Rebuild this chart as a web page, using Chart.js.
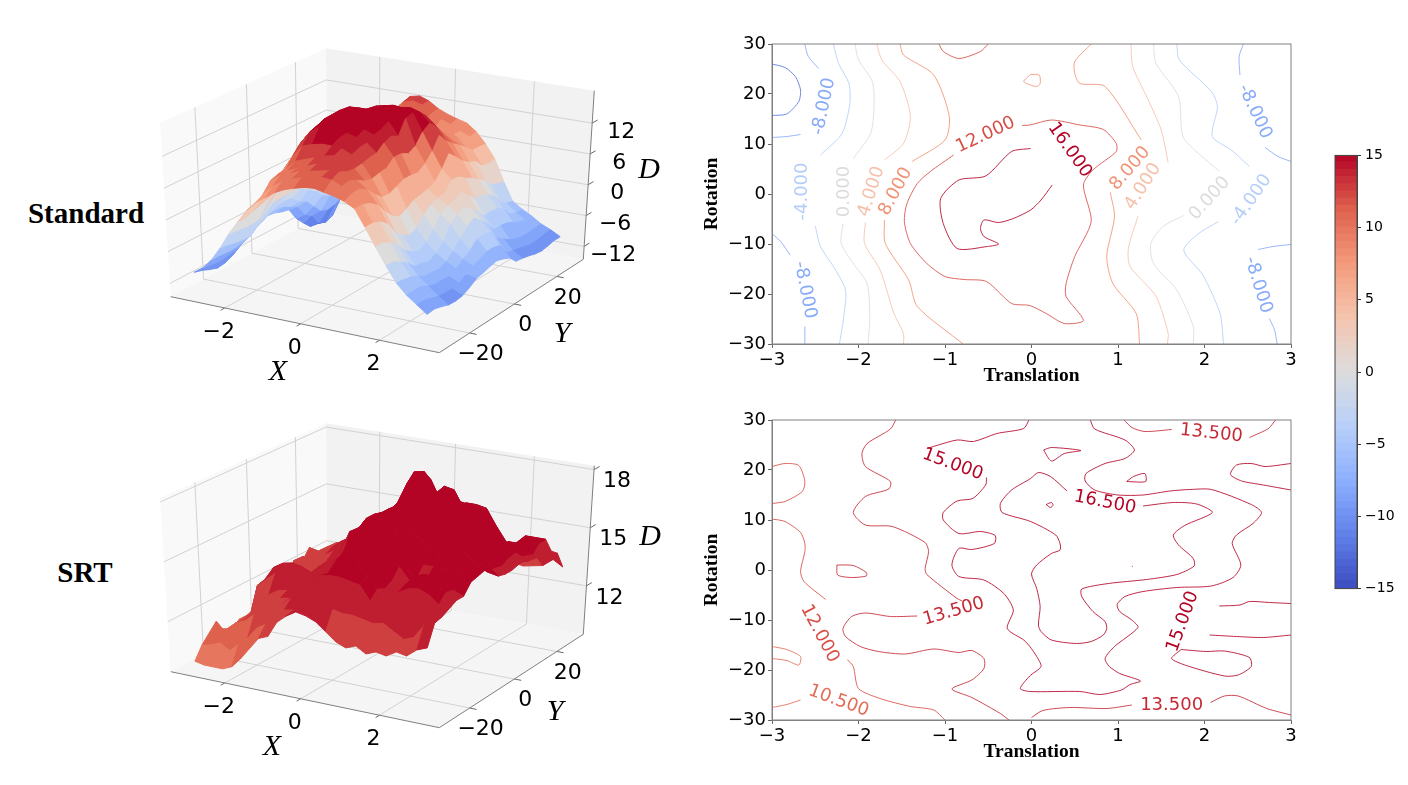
<!DOCTYPE html>
<html lang="en">
<head>
<meta charset="UTF-8">
<title>Standard vs SRT loss surfaces</title>
<script src="https://cdn.jsdelivr.net/npm/chart.js"></script>
<style>
  html, body { margin: 0; padding: 0; background: #fff; }
  body { width: 1408px; height: 785px; position: relative; overflow: hidden; }
  .panel { position: absolute; }
  .side-title { position: absolute; font: bold 29px "Liberation Serif", serif; color: #000; transform: translate(-50%, -50%); white-space: nowrap; }
</style>
</head>
<body>
<div class="side-title" style="left:86px;top:213px">Standard</div>
<div class="side-title" style="left:85px;top:572px">SRT</div>
<canvas class="panel" id="surfaceStandard" style="left:150px;top:30px;width:530px;height:370px"></canvas>
<canvas class="panel" id="surfaceSrt" style="left:150px;top:405px;width:530px;height:370px"></canvas>
<canvas class="panel" id="contourStandard" style="left:700px;top:30px;width:610px;height:358px"></canvas>
<canvas class="panel" id="contourSrt" style="left:700px;top:406px;width:610px;height:358px"></canvas>
<canvas class="panel" id="colorbar" style="left:1325px;top:143px;width:70px;height:458px"></canvas>

<script>
const xGrid = [-3, -2.75, -2.5, -2.25, -2, -1.75, -1.5, -1.25, -1, -0.75, -0.5, -0.25, 0, 0.25, 0.5, 0.75, 1, 1.25, 1.5, 1.75, 2, 2.25, 2.5, 2.75, 3];
const yGrid = [-30, -27, -24, -21, -18, -15, -12, -9, -6, -3, 0, 3, 6, 9, 12, 15, 18, 21, 24, 27, 30];

// one row per yGrid value
const standardZ = [
  [-10, -8.8, -6.9, -4.3, -1.3, 1.3, 3.8, 5.7, 6.9, 8.2, 9.1, 9.7, 10.2, 10.4, 10, 9.6, 9, 8, 4.9, 1.6, -1.5, -4.3, -6.2, -7.6, -9],
  [-10.4, -9, -6.9, -4.5, -1.5, 1.3, 4.2, 6.4, 8.3, 9.5, 10.3, 10.9, 11.4, 11.7, 11.5, 10.7, 9.7, 8, 4.9, 1.6, -1.6, -4.5, -6.2, -7.6, -8.8],
  [-11, -9.2, -7, -4.8, -1.7, 1.8, 5, 8.3, 9.5, 10.3, 11, 11.4, 11.8, 12.2, 12.3, 11, 9.8, 7.5, 4.4, 0.8, -2.4, -4.8, -6.2, -8, -9.2],
  [-11.5, -9, -7, -5, -1.7, 2.3, 6, 8.8, 9.8, 10.5, 11.3, 12, 12.5, 12.8, 11.6, 10.3, 8.9, 6.4, 3.2, -0.4, -3.4, -5.5, -7, -8.5, -9.7],
  [-11.3, -8.7, -6.7, -5, -1.5, 2.8, 6.8, 9, 10.8, 11.5, 12.1, 12.8, 13.2, 12.9, 11.4, 9.5, 7.3, 4.5, 0.8, -2.2, -4.8, -6.2, -7.4, -8.6, -9.8],
  [-10.7, -8.3, -6, -3.8, 0.4, 3.8, 8, 10.9, 13, 13.6, 14, 14, 13.8, 13, 11.6, 9.1, 6, 2.8, -0.4, -3.2, -5, -6.3, -7.4, -8.7, -9.6],
  [-9.7, -7.6, -5.2, -2.3, 1.3, 5.2, 9.3, 12.5, 15, 16.2, 16, 14.8, 14.3, 13.6, 12, 9.5, 5.9, 2, -1.3, -3.9, -5.4, -6.5, -7.6, -8.4, -8.9],
  [-8.2, -6.3, -4.6, -1, 2.6, 7.1, 11, 13.5, 15.5, 16.6, 15.6, 15, 14.5, 13.8, 12.2, 9.7, 6.5, 2.6, -0.7, -3, -4.7, -5.9, -6.9, -7.6, -8],
  [-7.3, -5.6, -3.7, -0.8, 2.7, 7.1, 11.3, 14, 16.1, 16.8, 15.9, 15.7, 15.3, 14.6, 13.4, 11, 7.2, 3.6, 1, -1.4, -3.3, -4.7, -5.9, -6.8, -7.7],
  [-6.8, -5.1, -3.2, -0.7, 2.5, 6, 11.2, 14, 16.2, 17, 17, 16.7, 16, 15, 14, 11, 7.2, 3.8, 2.3, 0.8, -0.8, -3.2, -5, -6.2, -7.3],
  [-6.6, -4.9, -2.8, -0.7, 1.9, 5.4, 9.5, 13.5, 16.3, 17.3, 17.4, 17.3, 16.9, 15.8, 13.3, 10.3, 7, 4.2, 2.8, 1.7, 0.3, -1.6, -3.6, -5.6, -7],
  [-6.8, -5.2, -3.2, -1, 1.7, 4.7, 8, 12.2, 14.5, 15.5, 16.5, 17.4, 17.4, 16.9, 16, 11, 8, 4.8, 3.1, 2.1, 1, -0.7, -3.5, -5.6, -7.4],
  [-7.3, -5.9, -4.6, -1.9, 0.9, 3.6, 6.9, 9.8, 12.4, 14, 15.4, 16.8, 17.2, 17, 16.4, 13, 9.6, 6.5, 4.8, 2.8, 0, -1.9, -3.8, -6, -8],
  [-7.6, -6.6, -5.2, -3, -0.5, 2, 4.5, 6.6, 8.9, 12, 14, 15.8, 16, 16.4, 15.8, 14, 12, 8.8, 4.7, 1.4, -1.3, -3.3, -5.7, -8.2, -9.4],
  [-10, -8.9, -6.9, -4.4, -1.5, 1, 3.5, 5.8, 7.9, 9.9, 11.7, 13.2, 14, 14.5, 14.3, 12.7, 10.2, 7.5, 3.7, 0.1, -2.9, -5.2, -6.6, -8.5, -9.6],
  [-11.6, -9.8, -8.5, -5.2, -1.9, 0.7, 3, 5.3, 7.5, 9.5, 10.8, 11.6, 11.9, 11.9, 11.5, 10.6, 9, 6, 3, 0, -2.8, -5.2, -7.5, -8.8, -9.9],
  [-13, -12, -9, -6, -2.5, 0.8, 3.4, 5.5, 7.6, 9.5, 10.4, 10, 9.7, 9.5, 9.3, 9, 8, 5, 2, -0.6, -3, -5.4, -8.1, -9.2, -10.3],
  [-13.2, -12.5, -8.7, -5.6, -2.4, 0.9, 3.8, 6.2, 8.4, 10, 10.6, 9.5, 7.9, 8.8, 8.8, 8.3, 6.9, 4.5, 1, -1.6, -3.7, -6, -8.4, -9.5, -10.5],
  [-12.7, -12, -8, -4.6, -0.9, 2.4, 5.1, 7.9, 10.2, 11.4, 11.2, 10.1, 8.5, 8.7, 8, 7, 5.6, 2.9, -0.4, -3.6, -5.4, -6.7, -8.4, -9.4, -10.3],
  [-10.8, -9.3, -7, -4.2, 0, 3.8, 7.4, 9.7, 11.8, 12.4, 11.9, 10.5, 9.6, 9, 8, 7.2, 5.6, 2.6, -1, -4.4, -6, -7, -8.3, -9.1, -10],
  [-10.1, -9, -6.6, -3.6, 0.6, 4.7, 8.2, 10.5, 12.3, 12.7, 12, 10.8, 10, 9.4, 8.9, 7.5, 5.4, 2.8, -1.3, -4.8, -6, -7, -8.2, -9, -10]
];
const srtZ = [
  [10, 9.9, 9.9, 9.9, 10.1, 10.6, 11.2, 11.8, 12, 12.8, 13.2, 13.5, 13.4, 13.2, 12.8, 12.4, 12.2, 12.4, 12.1, 12.3, 12.2, 12.5, 12.4, 12.8, 13],
  [10.6, 10.7, 10.9, 10.6, 11, 11.4, 12, 12.3, 12.8, 13.2, 13.3, 13.8, 13.9, 13.8, 13.7, 13.6, 13.6, 13.5, 13.4, 13.5, 13.2, 12.9, 13.1, 13.8, 14],
  [11, 11.3, 11.4, 11.8, 12, 12.4, 12.8, 13, 13.2, 13.6, 13.8, 14.2, 15, 15.1, 15.1, 15, 14.9, 14.2, 14, 14, 14.1, 13.9, 13.6, 14, 14.1],
  [11.4, 10.9, 11.3, 11.8, 12.2, 12.7, 13, 13.2, 13.3, 13.4, 14, 14.6, 14.9, 15.3, 15.8, 15.6, 15.1, 14.6, 14.2, 14.6, 14.9, 15, 14.8, 14.4, 14.3],
  [10.4, 10.4, 11.4, 11.9, 12.6, 13, 13.3, 13.4, 13.4, 13.5, 13.7, 14.4, 15, 15.8, 16.3, 15.9, 15.2, 14.4, 14.4, 14.8, 15.3, 15.5, 15.1, 14.8, 14.5],
  [10.5, 11, 11.3, 13.1, 13.5, 13.9, 14, 13.9, 13.7, 14.1, 14.3, 14.8, 15.5, 16.5, 16.7, 16, 15, 14.6, 14.4, 14.9, 15.2, 15.1, 14.9, 14.7, 14.5],
  [10.9, 11.2, 11.6, 13.2, 13.9, 14.2, 14.3, 14.2, 14, 14.4, 14.6, 15, 16, 16.7, 17, 16.6, 15.6, 15.1, 14.5, 14.5, 14.7, 14.8, 14.7, 14.9, 15],
  [10.9, 11.2, 11.8, 12.3, 13.3, 13.5, 13.5, 13.6, 14.1, 14.5, 14.7, 15, 16.3, 17, 17.2, 16.2, 15, 14.8, 14.4, 14.5, 14.6, 14.8, 14.8, 14.9, 15.1],
  [11, 11.4, 11.8, 12.2, 12.8, 13, 13.1, 13.2, 13.4, 13.7, 14.3, 15, 16, 17, 17.2, 16.2, 15, 15.2, 14.9, 14.9, 14.8, 14.7, 15.1, 15.2, 15.2],
  [11.3, 11.7, 12.3, 12.6, 12.9, 13, 13, 13.1, 13.3, 14.2, 15.1, 15.6, 16.1, 16.9, 16.5, 16.4, 16.3, 15.9, 15.5, 15.2, 15, 14.9, 14.9, 15, 15],
  [11.3, 11.9, 12.4, 13.4, 13.7, 13.3, 13.1, 13.3, 14.3, 15.4, 15.7, 16, 16.4, 16.9, 17.2, 17.3, 17.4, 17.6, 17.2, 16.7, 15.8, 15.2, 14.8, 14.6, 14.5],
  [11.4, 11.7, 12.4, 12.7, 13, 13.1, 13.2, 13.4, 14.3, 14.9, 15.3, 15.8, 16.2, 16.5, 17, 17.3, 17.5, 17.6, 17.4, 16.7, 16.1, 15.6, 15, 14.6, 14.4],
  [11.6, 12, 12.6, 12.9, 13.1, 13.2, 13.3, 13.5, 14.1, 15, 15.1, 15.7, 16.1, 16.5, 17, 17.4, 17.5, 17.4, 17.2, 16.6, 16.1, 15.5, 14.8, 14.5, 14.4],
  [11.9, 12, 12.7, 13, 13.2, 13.5, 13.6, 13.8, 14.5, 14.9, 15.4, 16.1, 16.6, 17, 17.3, 17.5, 17.3, 17.2, 17, 16.5, 16.7, 16.1, 15.2, 14.7, 14.5],
  [11.7, 11.8, 12.4, 12.8, 13.4, 13.8, 14.1, 14.3, 15, 15.2, 15.7, 16.3, 17.4, 17.6, 17.2, 16.6, 16.5, 16.4, 16.9, 16.9, 16.8, 16, 15.3, 14.8, 14.5],
  [12.2, 12.4, 12.8, 13, 13.4, 13.6, 14.1, 14.5, 14.8, 14.9, 15.3, 16.5, 17.8, 17.9, 17, 15.4, 15, 15, 15.1, 15.3, 15.3, 14.9, 14.7, 14.4, 14.6],
  [12.7, 12.6, 12.9, 13.2, 13.3, 13.4, 14.1, 14.4, 14.6, 14.7, 15.1, 15.8, 17, 17.3, 15.9, 14.9, 14.6, 15, 14.6, 14.5, 14.4, 14.8, 14.8, 14.9, 15],
  [12, 11.9, 12.3, 12.9, 13.3, 13.9, 14.1, 14.4, 14.7, 14.8, 15.2, 15.6, 16, 16.4, 16, 15, 14.7, 14.4, 14.2, 14.1, 14.2, 14.5, 15, 15, 15],
  [11.6, 11.6, 12.2, 12.7, 13.2, 13.9, 14.2, 14.7, 14.8, 14.9, 15.2, 15.6, 16.1, 16.6, 16.5, 15.6, 14.9, 14.7, 14.4, 14.3, 14.1, 14, 14.1, 14.2, 14.2],
  [11.3, 11.5, 12, 12.4, 13.1, 13.3, 13.9, 14.2, 14.6, 14.9, 15, 15.3, 15.7, 16, 15.7, 15.2, 14.2, 13.7, 13.4, 13.3, 13.2, 13.2, 13.5, 13.7, 13.9],
  [11, 11.3, 11.8, 12.1, 12.6, 13.1, 13.6, 14, 14.3, 14.5, 14.7, 14.9, 15.2, 15.5, 15.4, 14.9, 13.7, 13.2, 13, 12.8, 12.7, 12.8, 12.9, 13.3, 13]
];

const xTicks3d = [-2, 0, 2];
const yTicks3d = [-20, 0, 20];
const zTicksStandard = [-12, -6, 0, 6, 12];
const zTicksSrt = [12, 15, 18];
const colorbarTicks = [-15, -10, -5, 0, 5, 10, 15];

// contour polylines as flat x,y lists, one list per unbroken piece of line
const stdM12 = [
  [-3,26, -2.85,25.3, -2.73,23.5, -2.67,20.8, -2.69,18.5, -2.83,16, -3,15.7]
];
const stdM8 = [
  [-2.62,29.9, -2.58,27.5, -2.46,25.1],
  [-2.67,11.9, -2.83,11.5, -3,11.3],
  [-3,-7.9, -2.9,-9.5, -2.79,-12.2],
  [-2.62,-26.5, -2.62,-30],
  [2.45,30, 2.4,27.5, 2.41,23.8],
  [2.7,9.3, 2.85,7.5, 3,6.5],
  [2.62,-11.1, 2.79,-10.5, 3,-10.1],
  [2.75,-24.9, 2.81,-27.2, 2.84,-30]
];
const stdM4 = [
  [-2.29,30, -2.23,26.1, -2.11,22.1, -2.1,18.1, -2.19,12.1, -2.44,7.8],
  [-2.5,-6.4, -2.44,-10.5, -2.29,-14.5, -2.15,-19.2, -2.17,-24.5, -2.22,-30],
  [1.68,30, 1.71,26.8, 2.08,20.5, 2.15,17.5, 2.09,11.5, 2.31,8.8, 2.52,5.5],
  [2.16,-5.5, 1.91,-8.2, 1.76,-11.3, 1.98,-16.2, 2.18,-23.9, 2.22,-30]
];
const stdZero = [
  [-2.04,30, -2,26.8, -1.84,22.5, -1.82,17.5, -1.86,12.1, -2.06,7.1],
  [-2.18,-5.9, -2.2,-9.9, -2.06,-13.9, -1.9,-17.9, -1.87,-24.5, -1.89,-30],
  [1.41,30, 1.44,26.1, 1.7,19.5, 1.75,11.5, 1.95,7.8, 2.17,4.6],
  [1.76,-4.3, 1.52,-6.5, 1.38,-9.9, 1.41,-13.9, 1.68,-19.2, 1.87,-26.5, 1.87,-30]
];
const stdP4 = [
  [-1.79,30, -1.73,26.8, -1.52,22.5, -1.4,15.5, -1.48,10.1, -1.7,6.8],
  [-1.92,-5.7, -1.93,-9.9, -1.75,-15.2, -1.59,-23.9, -1.48,-27.9, -1.48,-30],
  [1.15,30, 1.17,25.5, 1.35,18.8, 1.5,12.8, 1.58,6.3],
  [1.23,-4.5, 1.12,-10.9, 1.14,-14.5, 1.44,-20.5, 1.58,-27.9, 1.57,-30]
];
const stdP8 = [
  [-1.52,30, -1.48,27.8, -1.13,23.8, -0.95,15.5, -1,10.8, -1.38,6.5],
  [-1.7,-5.2, -1.69,-9.9, -1.42,-17.2, -1.32,-22.5, -0.79,-30],
  [0.69,30, 0.5,26.5, 0.5,24.1, 0.56,22.1, 0.85,21.5, 1.27,10.8],
  [0.91,0.3, 0.96,-4.5, 0.87,-12.5, 0.94,-17.9, 1.21,-23.9, 1.25,-30],
  [-0.01,23.9, 0.09,23.8, 0.1,22.1, 0.06,21.5, -0.01,21.8, -0.09,22.5, -0.01,23.9]
];
const stdP12 = [
  [-1.07,30, -1.02,28.5, -0.84,27.1, -0.59,28.5, -0.5,30],
  [-0.9,7.8, -1.17,4.5, -1.32,2.1, -1.44,-1.9, -1.47,-5.5, -1.4,-9.9, -1.21,-13.9, -1,-16.5, -0.78,-17.1, -0.52,-17.5, -0.23,-21.9,
   -0.02,-22.3, 0.17,-23.9, 0.38,-25.9, 0.6,-25.3, 0.4,-20.5, 0.4,-17.9, 0.5,-12.5, 0.69,-5.5, 0.6,1.8, 0.71,4.8, 0.98,8.5, 0.98,10.1, 0.83,12.9, 0.56,13.8, 0.23,14.8, -0.02,13.8, -0.11,13.7]
];
const stdP16 = [
  [-0.01,9.1, -0.23,8.5, -0.53,3.6, -0.84,2.8, -1.05,-0.9, -1.02,-5.9, -0.86,-10.9, -0.51,-10.5, -0.38,-10, -0.55,-8.5, -0.59,-6.9, -0.55,-5.2, -0.38,-5.7, -0.21,-4.9, -0.01,-3.2, 0.11,-1.2, 0.24,1.8]
];

const srtP105 = [
  [-3,-15.3, -2.83,-15.9, -2.67,-17.3, -2.69,-19, -2.83,-18.1, -3,-17.7],
  [-3,-27.5, -2.83,-26.9, -2.67,-26]
];
const srtP12 = [
  [-3,20.7, -2.85,21.3, -2.69,20.9, -2.62,17.7, -2.65,15.7, -2.85,13.7, -3,13.3],
  [-3,10.2, -2.85,9.7, -2.67,7.5, -2.62,5.3, -2.62,3.7, -2.67,-0.3, -2.63,-2.3, -2.38,-5.9],
  [-2.13,-17.9, -2.06,-19.3, -2,-23.7, -1.75,-25.7, -1.4,-27.3, -1.13,-28, -1,-30]
];
const srtP135 = [
  [-1.57,30, -1.63,28.2, -1.9,25.3, -1.96,23.3, -1.92,20.7, -1.63,17.7, -1.65,16.2, -1.92,14.7, -2.06,11.5, -1.92,9, -1.61,8.7, -1.23,5.5, -1.19,3.7, -1.23,0.3, -1.21,-0.9, -0.86,-5.7, -0.8,-6.2],
  [-2.25,1, -2.06,0.9, -1.91,-0.5, -1.91,-1.2, -2.08,-1.5, -2.24,-1, -2.25,1],
  [-1.32,-9.2, -1.63,-9.3, -1.92,-8.6, -2.08,-9.3, -2.18,-11.7, -2.15,-13.3, -1.98,-15.3, -1.77,-16.3, -1.46,-16.8, -1.13,-15.8, -0.84,-16.5, -0.69,-16.1, -0.55,-17.7, -0.55,-19.7, -0.69,-22, -0.92,-23.8, -0.69,-25.5, -0.36,-28.7, -0.26,-30],
  [1.07,30, 1.16,28.5, 1.31,27.7, 1.62,28.1],
  [2.52,26.5, 2.74,28.3, 2.82,30],
  [0,-29.5, 0.13,-28.1, 0.44,-27.5, 0.87,-27.7, 1.16,-27],
  [2.07,-26.5, 2.23,-25.2, 2.39,-25.2, 2.72,-27.7, 3,-29]
];
const srtP15 = [
  [-1.21,24.3, -0.86,26, -0.67,25.7, -0.4,27.3, -0.09,28.3, -0.03,30],
  [-0.52,18.5, -0.53,17, -0.68,14.3, -0.86,13.8, -1.02,11.5, -1.02,10, -0.84,7.3, -0.59,7.7, -0.42,6.9, -0.43,5.3, -0.69,4.1, -0.84,4.3, -0.92,1, -0.84,-1.3, -0.55,-2, -0.32,-4.7, -0.21,-8, -0.28,-11.7, -0.09,-14, -0.02,-15.3,
   0.06,-17.3, 0.11,-19.3, -0.02,-21.2, -0.13,-23.7, -0.02,-24.3, 0.56,-24.3, 0.79,-24.9, 1.04,-24, 1.14,-22.9, 1.26,-22.2, 1.02,-20.7, 0.9,-19.3, 0.85,-17.7, 0.96,-15.3, 1.23,-11.5, 1.16,-10, 1.02,-8.3, 0.99,-6.9, 1.08,-5.3, 1.29,-4.3, 1.68,-3.5, 2.08,-3.2, 2.33,-1.5, 2.42,1, 2.32,5.3, 2.37,7, 2.56,9.3, 2.66,11.5, 2.54,13.1, 2.08,16.1, 1.83,16.1, 1.6,15.8, 1.29,15, 1,15, 0.73,16, 0.62,17.8, 0.63,19.3, 0.85,21.3, 1.08,22.3, 1.19,24, 1.08,26, 0.73,28.2, 0.68,30],
  [3,21.3, 2.7,20.7, 2.54,21.3, 2.37,21, 2.3,19.1, 2.43,17.8, 2.68,17, 3,16],
  [2.17,-7.2, 2.41,-7, 2.52,-6.3, 2.75,-6.5, 3,-6.7],
  [2.06,-13, 2.37,-13.3, 2.68,-13.5, 3,-13],
  [1.73,-15.9, 1.62,-17.7, 1.79,-19.1, 2.23,-21.2, 2.39,-21, 2.54,-19.3, 2.52,-17.5, 2.23,-16.2, 2.02,-16.3, 1.73,-15.9]
];
const srtP165 = [
  [0.41,15.8, 0.22,18.7, 0.08,19.5, -0.01,18.3, -0.23,16, -0.36,13.3, -0.34,11.5, -0.01,9.7, 0.28,7, 0.33,5.3, 0.33,4, 0.23,3.3, 0.06,1, 0,-0.8, 0.06,-3.7, 0.1,-7.3, 0.08,-11, 0.11,-12.3, 0.23,-14, 0.52,-14.7, 0.69,-14.3, 0.83,-13, 0.87,-11.7, 0.85,-10.3, 0.71,-8.3, 0.58,-5.3, 0.58,-3.8, 0.89,-2.7, 1.33,-1.9, 1.68,-0.9, 1.88,0.8, 1.87,2.3, 1.7,5, 1.64,7, 1.77,8.9, 2.09,11.5, 1.91,13.2, 1.64,13.5, 1.29,12.8],
  [0.14,24, 0.23,24.5, 0.57,23.9, 0.38,23.3, 0.23,21.8, 0.14,24],
  [1.1,17.7, 1.18,18.7, 1.31,19.3, 1.32,17.7, 1.1,17.7],
  [0.17,13.1, 0.23,13.5, 0.25,13, 0.22,12.5, 0.17,13.1],
  [1.16,0.8, 1.17,0.7]
];

// inline contour labels: text, level, x, y, angle in degrees
const stdLabels = [
  ['-8.000', -8, -2.4, 17.5, -78], ['-4.000', -4, -2.65, 0.5, -90], ['0.000', 0, -2.16, 0.5, -90],
  ['4.000', 4, -1.85, 0.5, -72], ['8.000', 8, -1.57, 0.5, -62], ['12.000', 12, -0.53, 11.8, -25],
  ['-8.000', -8, -2.62, -19.2, 79], ['16.000', 16, 0.44, 8.8, 55], ['8.000', 8, 1.14, 5.1, -49],
  ['4.000', 4, 1.29, 1.5, -57], ['0.000', 0, 2.06, -0.9, -48], ['-4.000', -4, 2.54, -1.2, -55],
  ['-8.000', -8, 2.58, 16.5, 65], ['-8.000', -8, 2.62, -18.2, 73]
];
const srtLabels = [
  ['15.000', 15, -0.91, 21.1, 20], ['12.000', 12, -2.45, -12.7, 62], ['13.500', 13.5, -0.9, -8.3, -16],
  ['10.500', 10.5, -2.23, -26.2, 20], ['13.500', 13.5, 2.08, 27.3, 6], ['16.500', 16.5, 0.85, 13.5, 11],
  ['15.000', 15, 1.75, -10.3, -70], ['13.500', 13.5, 1.62, -27, 0]
];

// coolwarm colormap stops
const coolwarmStops = [[59,76,192],[98,130,234],[141,176,254],[184,208,249],[221,220,220],[245,196,173],[244,154,123],[222,96,77],[180,4,38]];
function coolwarm(v) {
  const t = Math.max(0, Math.min(1, (v + 15) / 30)) * (coolwarmStops.length - 1);
  const i = Math.min(Math.floor(t), coolwarmStops.length - 2);
  const f = t - i;
  const c = coolwarmStops[i].map((a, k) => Math.round(a + (coolwarmStops[i + 1][k] - a) * f));
  return `rgb(${c[0]},${c[1]},${c[2]})`;
}

// unit square -> picture quad, used for the floor and the roof of the 3D box
function quadMap(q) {
  const [[x0,y0],[x1,y1],[x2,y2],[x3,y3]] = q;
  const dx1 = x1-x2, dx2 = x3-x2, sx = x0-x1+x2-x3;
  const dy1 = y1-y2, dy2 = y3-y2, sy = y0-y1+y2-y3;
  const den = dx1*dy2 - dx2*dy1;
  const g = (sx*dy2 - dx2*sy) / den, h = (dx1*sy - sx*dy1) / den;
  const a = x1-x0+g*x1, b = x3-x0+h*x3, d = y1-y0+g*y1, e = y3-y0+h*y3;
  return (u, v) => {
    const w = g*u + h*v + 1;
    return [(a*u + b*v + x0) / w, (d*u + e*v + y0) / w];
  };
}
const floorMap = quadMap([[170.7,296.7],[439.3,352.7],[583.3,259.3],[327,213]]);
const roofMap = quadMap([[160,123],[440,175],[594.3,90.7],[326,48.3]]);
const X_MIN = -3.47, X_MAX = 3.47, Y_MIN = -33, Y_MAX = 33;

function makeProjector(zMin, zMax, dy) {
  return (x, y, z) => {
    const u = (x - X_MIN) / (X_MAX - X_MIN), v = (y - Y_MIN) / (Y_MAX - Y_MIN), t = (z - zMin) / (zMax - zMin);
    const f = floorMap(u, v), r = roofMap(u, v);
    return { x: f[0] + (r[0] - f[0]) * t, y: f[1] + (r[1] - f[1]) * t + dy };
  };
}

function lineSet(points, color, width, tension) {
  return { data: points, showLine: true, borderColor: color, borderWidth: width, pointRadius: 0, tension: tension || 0, fill: false };
}
function polySet(points, color, edge) {
  return { data: points.concat([points[0]]), showLine: true, borderColor: edge ? color : 'transparent', borderWidth: edge ? 1 : 0, backgroundColor: color, pointRadius: 0, tension: 0, fill: 'shape' };
}

// text drawn on the canvas, anchored through the chart scales
function textPlugin(items) {
  return {
    id: 'textItems',
    afterDraw(chart) {
      const ctx = chart.ctx;
      items.forEach(it => {
        ctx.save();
        ctx.translate(chart.scales.x.getPixelForValue(it.x) + (it.dx || 0), chart.scales.y.getPixelForValue(it.y) + (it.dy || 0));
        if (it.angle) ctx.rotate(it.angle * Math.PI / 180);
        ctx.font = it.font;
        ctx.fillStyle = it.color || '#000';
        ctx.textAlign = 'center';
        ctx.textBaseline = 'middle';
        ctx.fillText(it.text, 0, 0);
        ctx.restore();
      });
    }
  };
}

const TICK_FONT = '22px "DejaVu Sans"';
const AXIS_FONT = 'italic 30px "Liberation Serif"';
const minus = s => String(s).replace('-', '\u2212');

function drawSurface(id, rows, zMin, zMax, zTicks, dy, zOffset, labelPos) {
  const P = makeProjector(zMin, zMax, dy);
  const quads = [];
  for (let j = 0; j < yGrid.length - 1; j++) {
    for (let i = 0; i < xGrid.length - 1; i++) {
      const mean = (rows[j][i] + rows[j][i+1] + rows[j+1][i] + rows[j+1][i+1]) / 4;
      quads.push({
        depth: (xGrid[i] + xGrid[i+1]) / 6 - (yGrid[j] + yGrid[j+1]) / 60,
        pts: [P(xGrid[i], yGrid[j], rows[j][i]), P(xGrid[i+1], yGrid[j], rows[j][i+1]), P(xGrid[i+1], yGrid[j+1], rows[j+1][i+1]), P(xGrid[i], yGrid[j+1], rows[j+1][i])],
        // coloured in steps, the reference surface shows bands
        color: coolwarm(Math.round(mean / 1.4) * 1.4)
      });
    }
  }
  quads.sort((a, b) => b.depth - a.depth);

  // first dataset ends up on top, so nearest quads go first
  const datasets = quads.map(q => polySet(q.pts, q.color, true));

  const edge = '#7f7f7f', grid = '#d2d2d2';
  datasets.push(lineSet([P(X_MIN,Y_MIN,zMin), P(X_MAX,Y_MIN,zMin), P(X_MAX,Y_MAX,zMin), P(X_MAX,Y_MAX,zMax)], edge, 1));
  xTicks3d.forEach(t => datasets.push(lineSet([P(t,Y_MIN,zMin), P(t,Y_MIN-1.6,zMin)], '#666', 1)));
  yTicks3d.forEach(t => datasets.push(lineSet([P(X_MAX,t,zMin), P(X_MAX+0.17,t,zMin)], '#666', 1)));
  zTicks.forEach(t => datasets.push(lineSet([P(X_MAX,Y_MAX,t), P(X_MAX,Y_MAX+2.6,t)], '#666', 1)));
  xTicks3d.forEach(t => {
    datasets.push(lineSet([P(t,Y_MIN,zMin), P(t,Y_MAX,zMin), P(t,Y_MAX,zMax)], grid, 1));
  });
  yTicks3d.forEach(t => {
    datasets.push(lineSet([P(X_MAX,t,zMin), P(X_MIN,t,zMin), P(X_MIN,t,zMax)], grid, 1));
  });
  zTicks.forEach(t => {
    datasets.push(lineSet([P(X_MIN,Y_MIN,t), P(X_MIN,Y_MAX,t), P(X_MAX,Y_MAX,t)], grid, 1));
  });
  // panes: floor, left wall, back wall
  datasets.push(polySet([P(X_MIN,Y_MIN,zMin), P(X_MAX,Y_MIN,zMin), P(X_MAX,Y_MAX,zMin), P(X_MIN,Y_MAX,zMin)], '#f5f5f5'));
  datasets.push(polySet([P(X_MIN,Y_MIN,zMin), P(X_MIN,Y_MAX,zMin), P(X_MIN,Y_MAX,zMax), P(X_MIN,Y_MIN,zMax)], '#f9f9f9'));
  datasets.push(polySet([P(X_MIN,Y_MAX,zMin), P(X_MAX,Y_MAX,zMin), P(X_MAX,Y_MAX,zMax), P(X_MIN,Y_MAX,zMax)], '#f2f2f2'));

  const items = [];
  xTicks3d.forEach(t => items.push({ text: minus(t), ...P(t, Y_MIN, zMin), dx: -6, dy: 24, font: TICK_FONT }));
  yTicks3d.forEach(t => items.push({ text: minus(t), ...P(X_MAX, t, zMin), dx: 11, dy: 21.5, font: TICK_FONT }));
  zTicks.forEach(t => items.push({ text: minus(t), ...P(X_MAX, Y_MAX, t), dx: zOffset[0], dy: zOffset[1], font: TICK_FONT }));
  labelPos.forEach(l => items.push({ text: l[0], x: l[1], y: l[2], font: AXIS_FONT }));

  new Chart(document.getElementById(id), {
    type: 'scatter',
    data: { datasets },
    plugins: [textPlugin(items)],
    options: {
      responsive: false,
      animation: false,
      layout: { padding: 0 },
      plugins: { legend: { display: false }, tooltip: { enabled: false } },
      scales: {
        x: { type: 'linear', display: false, min: 150, max: 680 },
        y: { type: 'linear', display: false, reverse: true, min: 30 + dy, max: 400 + dy }
      }
    }
  });
}

const framePlugin = color => ({
  id: 'frame',
  afterDatasetsDraw(chart) {
    const a = chart.chartArea, ctx = chart.ctx;
    ctx.save();
    ctx.strokeStyle = color;
    ctx.lineWidth = 1;
    ctx.strokeRect(a.left, a.top, a.right - a.left, a.bottom - a.top);
    ctx.restore();
  }
});

function drawContour(id, levels, labels) {
  const datasets = [];
  levels.forEach(([level, lines]) => {
    lines.forEach(flat => {
      const pts = [];
      for (let i = 0; i < flat.length; i += 2) pts.push({ x: flat[i], y: flat[i + 1] });
      datasets.push(lineSet(pts, coolwarm(level), 0.85, 0.25));
    });
  });
  const items = labels.map(l => ({ text: l[0], x: l[2], y: l[3], angle: l[4], color: coolwarm(l[1]), font: '18px "DejaVu Sans"' }));
  const axisTitle = text => ({ display: true, text, color: '#000', padding: 0, font: { family: 'Liberation Serif', size: 19.5, weight: 'bold' } });
  const tickOpts = { color: '#000', font: { family: 'DejaVu Sans', size: 18 }, padding: 2, maxRotation: 0, callback: v => minus(v) };
  const gridOpts = { drawOnChartArea: false, drawTicks: true, tickLength: 4, color: '#666' };
  new Chart(document.getElementById(id), {
    type: 'scatter',
    data: { datasets },
    plugins: [framePlugin('#808080'), textPlugin(items)],
    options: {
      responsive: false,
      animation: false,
      layout: { padding: { top: 14, right: 19 } },
      plugins: { legend: { display: false }, tooltip: { enabled: false } },
      scales: {
        x: { type: 'linear', min: -3, max: 3, ticks: { ...tickOpts, stepSize: 1 }, grid: gridOpts, border: { color: '#808080' }, title: axisTitle('Translation'), afterFit: s => { s.height = 44; } },
        y: { type: 'linear', min: -30, max: 30, ticks: { ...tickOpts, stepSize: 10 }, grid: gridOpts, border: { color: '#808080' }, title: axisTitle('Rotation'), afterFit: s => { s.width = 72; } }
      }
    }
  });
}

function drawColorbar() {
  const datasets = [];
  for (let v = -15; v < 15; v += 0.5) {
    // inflated a little so the steps do not leave seams
    datasets.push({ data: [[v, v + 0.5]], backgroundColor: coolwarm(v + 0.25), borderWidth: 0, inflateAmount: 1, barPercentage: 1, categoryPercentage: 1, grouped: false });
  }
  new Chart(document.getElementById('colorbar'), {
    type: 'bar',
    data: { labels: [''], datasets },
    plugins: [framePlugin('#444')],
    options: {
      responsive: false,
      animation: false,
      layout: { padding: { top: 9, bottom: 10, left: 10 } },
      plugins: { legend: { display: false }, tooltip: { enabled: false } },
      scales: {
        x: { display: false, stacked: false },
        y: {
          position: 'right', min: -15, max: 15,
          afterBuildTicks: s => { s.ticks = colorbarTicks.map(value => ({ value })); },
          ticks: { color: '#000', font: { family: 'DejaVu Sans', size: 14 }, padding: 4, callback: v => minus(v) },
          grid: { drawOnChartArea: false, tickLength: 4, color: '#333' },
          border: { color: '#444' },
          afterFit: s => { s.width = 38; }
        }
      }
    }
  });
}

drawSurface('surfaceStandard', standardZ, -14.5, 18.3, zTicksStandard, 0, [29, 9], [['X', 278, 372], ['Y', 562, 334], ['D', 649, 170]]);
drawSurface('surfaceSrt', srtZ, 9.5, 18.2, zTicksSrt, 375, [23, 12], [['X', 272, 747], ['Y', 555, 712], ['D', 650, 537]]);
drawContour('contourStandard', [[-12, stdM12], [-8, stdM8], [-4, stdM4], [0, stdZero], [4, stdP4], [8, stdP8], [12, stdP12], [16, stdP16]], stdLabels);
drawContour('contourSrt', [[10.5, srtP105], [12, srtP12], [13.5, srtP135], [15, srtP15], [16.5, srtP165]], srtLabels);
drawColorbar();
</script>
</body>
</html>
